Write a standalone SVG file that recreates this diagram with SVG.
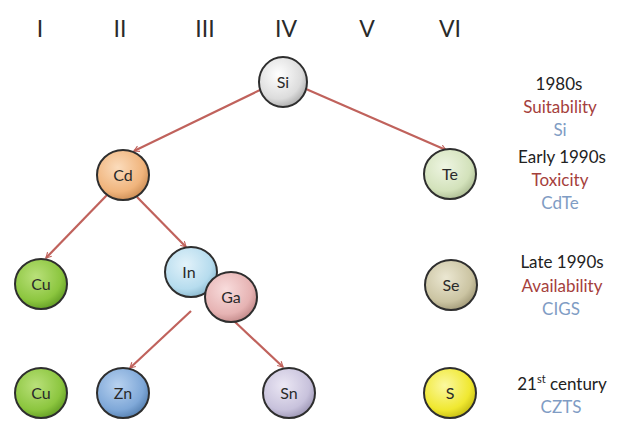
<svg xmlns="http://www.w3.org/2000/svg" width="618" height="421" viewBox="0 0 618 421">
<defs>
<style>
.num{font-family:Lato,"Open Sans",sans-serif;font-size:23px;fill:#2a2a2a;text-anchor:middle}
.lbl{font-family:Lato,"Open Sans",sans-serif;font-size:16px;fill:#2a2a2a;text-anchor:middle}
.era{font-family:Lato,"Open Sans",sans-serif;font-size:17px;fill:#222;text-anchor:middle}
.crit{font-family:Lato,"Open Sans",sans-serif;font-size:17px;fill:#a5403c;text-anchor:middle}
.mat{font-family:Lato,"Open Sans",sans-serif;font-size:17px;fill:#7f9cc4;text-anchor:middle}
.ball{stroke:#2e2e2e;stroke-width:2}
.conn{stroke:#c0625c;stroke-width:2.2;fill:none;marker-end:url(#arr)}
</style>
<marker id="arr" viewBox="0 0 12 12" refX="10" refY="6" markerWidth="7" markerHeight="7" orient="auto" markerUnits="userSpaceOnUse">
<path d="M1,1 L10,6 L1,11" fill="none" stroke="#c0625c" stroke-width="2"/>
</marker>
<radialGradient id="gSi" cx="0.4" cy="0.35" r="0.7"><stop offset="0" stop-color="#ffffff"/><stop offset="0.7" stop-color="#dcdcdc"/><stop offset="1" stop-color="#a8a8a8"/></radialGradient>
<radialGradient id="gCd" cx="0.4" cy="0.35" r="0.7"><stop offset="0" stop-color="#fbdcbc"/><stop offset="0.7" stop-color="#f0b47c"/><stop offset="1" stop-color="#c98a52"/></radialGradient>
<radialGradient id="gTe" cx="0.4" cy="0.35" r="0.7"><stop offset="0" stop-color="#eef5e2"/><stop offset="0.7" stop-color="#d3e2bb"/><stop offset="1" stop-color="#a9b98f"/></radialGradient>
<radialGradient id="gCu" cx="0.4" cy="0.35" r="0.7"><stop offset="0" stop-color="#b9e07a"/><stop offset="0.7" stop-color="#8cc63f"/><stop offset="1" stop-color="#5f9a22"/></radialGradient>
<radialGradient id="gIn" cx="0.4" cy="0.35" r="0.7"><stop offset="0" stop-color="#e2f2fa"/><stop offset="0.7" stop-color="#b6dcee"/><stop offset="1" stop-color="#86b6cc"/></radialGradient>
<radialGradient id="gGa" cx="0.4" cy="0.35" r="0.7"><stop offset="0" stop-color="#f8dcdc"/><stop offset="0.7" stop-color="#e6b3b3"/><stop offset="1" stop-color="#bf8585"/></radialGradient>
<radialGradient id="gSe" cx="0.4" cy="0.35" r="0.7"><stop offset="0" stop-color="#ebe7d2"/><stop offset="0.7" stop-color="#cbc4a2"/><stop offset="1" stop-color="#9e9674"/></radialGradient>
<radialGradient id="gZn" cx="0.4" cy="0.35" r="0.7"><stop offset="0" stop-color="#b8d2f0"/><stop offset="0.7" stop-color="#7fa8d8"/><stop offset="1" stop-color="#527dae"/></radialGradient>
<radialGradient id="gSn" cx="0.4" cy="0.35" r="0.7"><stop offset="0" stop-color="#ebe7f4"/><stop offset="0.7" stop-color="#c8c2dc"/><stop offset="1" stop-color="#9a93b2"/></radialGradient>
<radialGradient id="gS" cx="0.4" cy="0.35" r="0.7"><stop offset="0" stop-color="#fbf8a0"/><stop offset="0.7" stop-color="#f0e830"/><stop offset="1" stop-color="#c2b910"/></radialGradient>
</defs>
<rect width="618" height="421" fill="#ffffff"/>
<g id="group-numbers">
<text class="num" x="40" y="37">I</text>
<text class="num" x="120" y="37">II</text>
<text class="num" x="205" y="37">III</text>
<text class="num" x="286" y="37">IV</text>
<text class="num" x="367" y="37">V</text>
<text class="num" x="450" y="37">VI</text>
</g>
<g id="connectors">
<line class="conn" x1="262" y1="89" x2="134" y2="151"/>
<line class="conn" x1="306" y1="89" x2="446" y2="150"/>
<line class="conn" x1="107" y1="195" x2="46" y2="258"/>
<line class="conn" x1="137" y1="197" x2="186" y2="247"/>
<line class="conn" x1="191" y1="311" x2="130" y2="368"/>
<line class="conn" x1="234" y1="321" x2="283" y2="367"/>
</g>
<g id="node-Si"><ellipse class="ball" cx="283" cy="82" rx="24" ry="25" fill="url(#gSi)"/><text class="lbl" x="283" y="88">Si</text></g>
<g id="node-Cd"><ellipse class="ball" cx="123" cy="175" rx="26" ry="25" fill="url(#gCd)"/><text class="lbl" x="123" y="181">Cd</text></g>
<g id="node-Te"><ellipse class="ball" cx="450" cy="174" rx="26" ry="25" fill="url(#gTe)"/><text class="lbl" x="450" y="180">Te</text></g>
<g id="node-Cu1"><ellipse class="ball" cx="41" cy="284" rx="26" ry="25" fill="url(#gCu)"/><text class="lbl" x="41" y="290">Cu</text></g>
<g id="node-In"><ellipse class="ball" cx="191" cy="272" rx="26" ry="25" fill="url(#gIn)"/><text class="lbl" x="189" y="278">In</text></g>
<g id="node-Ga"><ellipse class="ball" cx="231" cy="297" rx="26" ry="25" fill="url(#gGa)"/><text class="lbl" x="231" y="303">Ga</text></g>
<g id="node-Se"><ellipse class="ball" cx="451" cy="285" rx="26" ry="25" fill="url(#gSe)"/><text class="lbl" x="451" y="291">Se</text></g>
<g id="node-Cu2"><ellipse class="ball" cx="41" cy="393" rx="26" ry="25" fill="url(#gCu)"/><text class="lbl" x="41" y="399">Cu</text></g>
<g id="node-Zn"><ellipse class="ball" cx="123" cy="393" rx="26" ry="25" fill="url(#gZn)"/><text class="lbl" x="123" y="399">Zn</text></g>
<g id="node-Sn"><ellipse class="ball" cx="289" cy="393" rx="26" ry="25" fill="url(#gSn)"/><text class="lbl" x="289" y="399">Sn</text></g>
<g id="node-S"><ellipse class="ball" cx="450" cy="393" rx="26" ry="25" fill="url(#gS)"/><text class="lbl" x="450" y="399">S</text></g>
<g id="legend">
<text class="era" x="559" y="90">1980s</text>
<text class="crit" x="560" y="113">Suitability</text>
<text class="mat" x="560" y="136">Si</text>
<text class="era" x="562" y="163">Early 1990s</text>
<text class="crit" x="560" y="186">Toxicity</text>
<text class="mat" x="560" y="209">CdTe</text>
<text class="era" x="562" y="268">Late 1990s</text>
<text class="crit" x="562" y="292">Availability</text>
<text class="mat" x="561" y="315">CIGS</text>
<text class="era" x="562" y="390">21<tspan font-size="11" dy="-7">st</tspan><tspan dy="7"> century</tspan></text>
<text class="mat" x="561" y="413">CZTS</text>
</g>
</svg>
